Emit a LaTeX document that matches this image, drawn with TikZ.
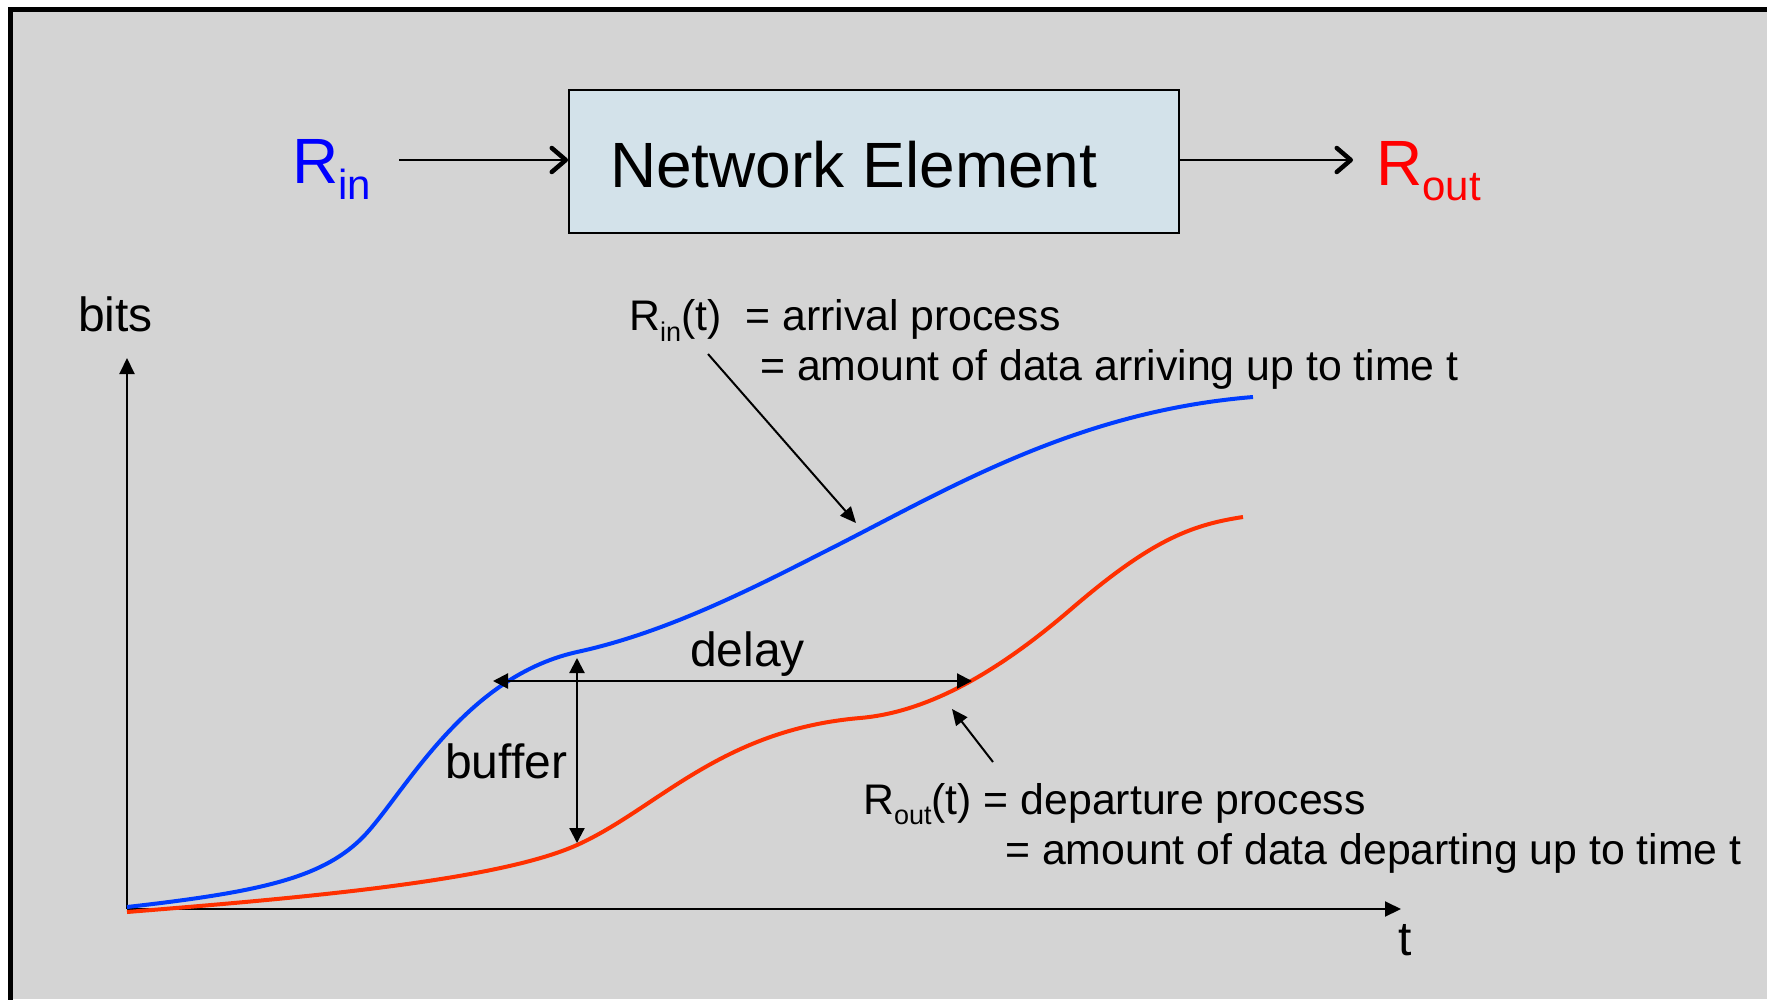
\documentclass[tikz,border=0pt]{standalone}
\usepackage{fontspec}
\setmainfont{Liberation Sans}
\usetikzlibrary{arrows.meta}
\definecolor{bggray}{RGB}{212,212,212}
\definecolor{boxfill}{RGB}{211,226,234}
\definecolor{curveblue}{RGB}{0,60,255}
\definecolor{curvered}{RGB}{255,48,0}
\definecolor{txtblue}{RGB}{0,0,255}
\definecolor{txtred}{RGB}{255,0,0}
\newcommand{\lowsub}[3]{\raisebox{-#1pt}{\fontsize{#2pt}{#2pt}\selectfont #3}}
\begin{document}
\begin{tikzpicture}[x=1pt,y=-1pt,
  bigtxt/.style={inner sep=0pt,anchor=base west,font=\fontsize{64pt}{64pt}\selectfont},
  lbltxt/.style={inner sep=0pt,anchor=base west,font=\fontsize{48pt}{48pt}\selectfont},
  annot/.style={inner sep=0pt,anchor=base west,font=\fontsize{42.8pt}{42.8pt}\selectfont},
  toparrow/.style={line width=2.5pt,-{Straight Barb[length=14pt,width=24pt,line width=4.5pt,round]}},
  axisline/.style={line width=2pt,-{Triangle[length=16pt,width=15pt]}},
  markarrow/.style={line width=2.2pt,{Triangle[length=15pt,width=15pt]}-{Triangle[length=15pt,width=15pt]}},
  pointer/.style={line width=2pt,-{Triangle[length=16pt,width=14pt]}},
  curve/.style={line width=4pt,line cap=butt}
]
\useasboundingbox (0,0) rectangle (1767,999);
\fill[white] (0,0) rectangle (1767,999);
\fill[bggray] (8,7) rectangle (1767,999);
\draw[line width=5pt,line cap=rect] (10.5,999) -- (10.5,9.5) -- (1767,9.5);

% top block
\node[draw=black,line width=2pt,fill=boxfill,minimum width=610pt,minimum height=143pt,inner sep=0pt] (box) at (874,161.5) {};
\node[bigtxt] (ne) at (610,187) {Network Element};
\node[bigtxt,text=txtblue] (rin) at (292,183) {R\lowsub{16}{42}{in}};
\node[bigtxt,text=txtred] (rout) at (1376,185) {R\lowsub{15}{42}{out}};
\coordinate (rinstart) at (399,160);
\coordinate (routend) at (1353,160);
\draw[toparrow] (rinstart) -- (box.west |- rinstart);
\draw[toparrow] (box.east |- routend) -- (routend);

% axes
\coordinate (origin) at (127,909);
\coordinate (ytop) at (127,358);
\coordinate (xend) at (1401,909);
\draw[axisline] (origin) -- (ytop);
\draw[axisline] (origin) -- (xend);
\node[lbltxt] (bits) at (78,331) {bits};
\node[lbltxt] (tlbl) at (1398,955) {t};

% curves
\draw[curve,curvered] (127,912) .. controls (300,898) and (497,881) .. (577,845)
  .. controls (657,809) and (720,730) .. (860,718)
  .. controls (930,712) and (1000,670) .. (1070,610)
  .. controls (1150,541) and (1190,525) .. (1243,517);
\draw[curve,curveblue] (127,907) .. controls (260,892) and (320,878) .. (360,840)
  .. controls (400,802) and (460,678) .. (577,652)
  .. controls (660,634) and (740,595) .. (820,554)
  .. controls (940,494) and (1070,412) .. (1253,397);

% delay and buffer
\coordinate (dl) at (493,681);
\coordinate (dr) at (972,681);
\coordinate (bt) at (577,658);
\coordinate (bb) at (577,843);
\draw[markarrow] (dl) -- (dr);
\draw[markarrow] (bt) -- (bb);
\node[lbltxt] (delay) at (690,666) {delay};
\node[lbltxt] (buffer) at (445,778) {buffer};

% annotations
\node[annot] (rint) at (629,330) {R\lowsub{11}{27}{in}(t)\hspace{0.56em}= arrival process};
\node[annot] (rint2) at (760,380) {= amount of data arriving up to time t};
\node[annot] (routt) at (863,814) {R\lowsub{10}{27}{out}(t) = departure process};
\node[annot] (routt2) at (1005,864) {= amount of data departing up to time t};
\coordinate (rintail) at (708,354);
\coordinate (rintip) at (856,523);
\coordinate (routtail) at (993,762);
\coordinate (routtip) at (952,709);
\draw[pointer] (rintail) -- (rintip);
\draw[pointer] (routtail) -- (routtip);
\end{tikzpicture}
\end{document}
